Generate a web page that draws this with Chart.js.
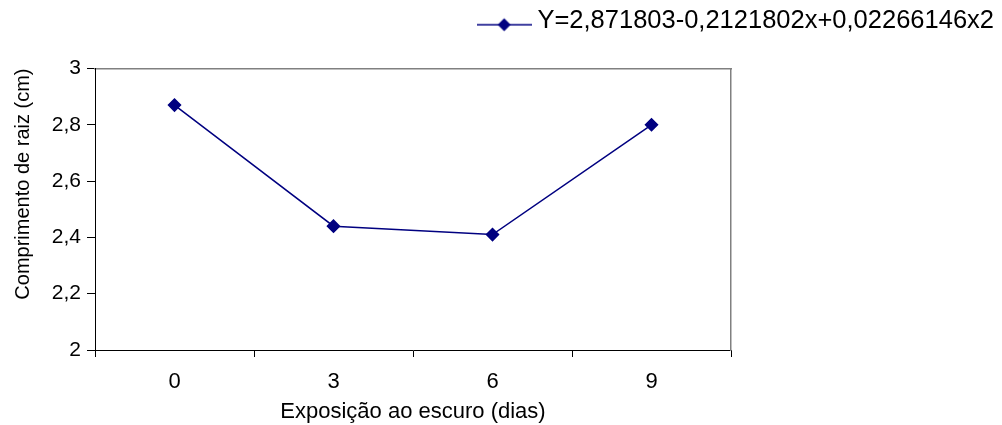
<!DOCTYPE html>
<html>
<head>
<meta charset="utf-8">
<script src="https://cdn.jsdelivr.net/npm/chart.js@4/dist/chart.umd.min.js"></script>
<style>
  html, body { margin: 0; padding: 0; background: #fff; }
  #wrap { width: 1002px; height: 425px; }
</style>
</head>
<body>
<div id="wrap"><canvas id="chart"></canvas></div>
<script>
const categories = ['0', '3', '6', '9'];
const rootLength = [2.87, 2.44, 2.41, 2.80];
const yTicks = [2, 2.2, 2.4, 2.6, 2.8, 3];
const yTickLabels = ['2', '2,2', '2,4', '2,6', '2,8', '3'];
const seriesName = 'Y=2,871803-0,2121802x+0,02266146x2';

const navy = '#000080';
const font = "'Liberation Sans', Arial, sans-serif";

// legend symbol: line with a diamond, drawn a little below the text middle
const legendIcon = document.createElement('canvas');
legendIcon.width = 55;
legendIcon.height = 24;
(function() {
    const c = legendIcon.getContext('2d');
    c.strokeStyle = navy;
    c.lineWidth = 1.5;
    c.beginPath();
    c.moveTo(0, 16);
    c.lineTo(55, 16);
    c.stroke();
    c.fillStyle = navy;
    c.beginPath();
    c.moveTo(27.5, 9.5);
    c.lineTo(34, 16);
    c.lineTo(27.5, 22.5);
    c.lineTo(21, 16);
    c.closePath();
    c.fill();
})();

Chart.defaults.font.family = font;
Chart.defaults.color = '#000';

new Chart(document.getElementById('chart').getContext('2d'), {
    type: 'line',
    data: {
        labels: categories,
        datasets: [{
            label: seriesName,
            data: rootLength,
            borderColor: navy,
            backgroundColor: navy,
            borderWidth: 1.5,
            pointStyle: 'rectRot',
            pointRadius: 6,
            pointHoverRadius: 6,
            tension: 0
        }]
    },
    options: {
        responsive: true,
        maintainAspectRatio: false,
        animation: false,
        layout: { padding: 0 },
        plugins: {
            tooltip: { enabled: false },
            legend: {
                position: 'top',
                align: 'end',
                labels: {
                    usePointStyle: true,
                    pointStyle: legendIcon,
                    pointStyleWidth: 41,
                    padding: 8,
                    font: { size: 25.5 },
                    color: '#000'
                }
            }
        },
        scales: {
            x: {
                type: 'category',
                offset: true,
                afterFit: s => { s.height = 75; },
                grid: {
                    offset: true,
                    drawOnChartArea: false,
                    color: '#000',
                    tickLength: 7
                },
                border: { color: '#000', width: 1 },
                ticks: { font: { size: 22 }, padding: 12 },
                title: {
                    display: true,
                    text: 'Exposição ao escuro (dias)',
                    font: { size: 22 },
                    padding: { top: 0, bottom: 0 }
                }
            },
            xTop: {
                type: 'category',
                position: 'top',
                labels: categories,
                offset: true,
                afterFit: s => { s.height = 25; },
                grid: { display: false },
                ticks: { display: false },
                border: { color: '#808080', width: 1.5 }
            },
            y: {
                min: 2,
                max: 3,
                afterFit: s => { s.width = 95; },
                afterBuildTicks: s => { s.ticks = yTicks.map(v => ({ value: v })); },
                grid: {
                    drawOnChartArea: false,
                    color: '#000',
                    tickLength: 8
                },
                border: { color: '#000', width: 1 },
                ticks: {
                    font: { size: 21 },
                    padding: 6,
                    callback: v => yTickLabels[yTicks.indexOf(v)]
                },
                title: {
                    display: true,
                    text: 'Comprimento de raiz (cm)',
                    align: 'end',
                    font: { size: 20 },
                    padding: { top: 11, bottom: 0 }
                }
            },
            yRight: {
                position: 'right',
                min: 2,
                max: 3,
                afterFit: s => { s.width = 271; },
                grid: { display: false },
                ticks: { display: false },
                border: { color: '#808080', width: 1.5 }
            }
        }
    }
});
</script>
</body>
</html>
